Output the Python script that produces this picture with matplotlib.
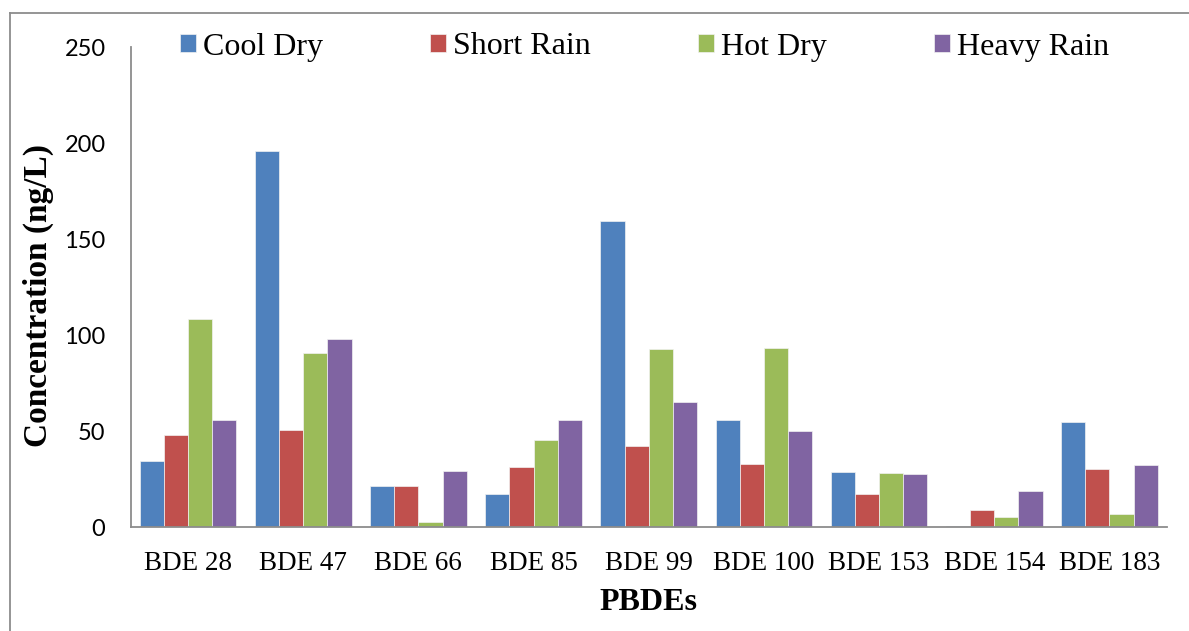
import matplotlib
matplotlib.use("Agg")
import matplotlib.pyplot as plt
from matplotlib.lines import Line2D
import numpy as np

categories = ["BDE 28", "BDE 47", "BDE 66", "BDE 85", "BDE 99",
              "BDE 100", "BDE 153", "BDE 154", "BDE 183"]
cool_dry = [34.4, 195.8, 21.4, 17.4, 159.4, 55.7, 28.8, 0.7, 54.9]
short_rain = [47.9, 50.7, 21.4, 31.6, 42.2, 33.0, 17.4, 8.9, 30.4]
hot_dry = [108.5, 90.8, 2.8, 45.7, 92.7, 93.2, 28.1, 5.4, 6.9]
heavy_rain = [55.7, 97.9, 29.2, 55.9, 65.1, 50.0, 27.8, 19.1, 32.6]
series_names = ["Cool Dry", "Short Rain", "Hot Dry", "Heavy Rain"]
y_ticks = [0, 50, 100, 150, 200, 250]

series = [cool_dry, short_rain, hot_dry, heavy_rain]
colors = ["#4F81BD", "#C0504D", "#9BBB59", "#8064A2"]

W, H = 1189, 631
fig = plt.figure(figsize=(W / 100, H / 100), dpi=100)
ax = fig.add_axes([130.5 / W, 1 - 527.3 / H, (1167 - 130.5) / W, 480 / H])

x = np.arange(len(categories))
bw = 0.21
for i, (vals, name, c) in enumerate(zip(series, series_names, colors)):
    ax.bar(x + (i - 1.5) * bw, vals, width=bw, color=c, label=name,
           edgecolor="#f2f2f2", linewidth=0.5)

ax.set_xlim(-0.5, len(categories) - 0.5)
ax.set_ylim(0, 250)
ax.set_yticks(y_ticks)
ax.set_yticklabels([str(t) for t in y_ticks], fontfamily="Lato", fontsize=17)
ax.set_xticks(x)
ax.set_xticklabels(categories, fontfamily="Liberation Serif", fontsize=19.5)
ax.tick_params(axis="y", length=0, pad=18)
ax.tick_params(axis="x", length=0, pad=17)

for s in ["top", "right"]:
    ax.spines[s].set_visible(False)
for s in ["left", "bottom"]:
    ax.spines[s].set_color("#8c8c8c")
    ax.spines[s].set_linewidth(1.3)

ax.set_xlabel("PBDEs", fontfamily="Liberation Serif", fontsize=23,
              fontweight="bold", va="center")
ax.xaxis.set_label_coords(0.5, (527.3 - 603) / 480)
ax.set_ylabel("Concentration (ng/L)", fontfamily="Liberation Serif",
              fontsize=24, fontweight="bold", va="center")
ax.yaxis.set_label_coords((38 - 130.5) / 1036.5, (527.3 - 295.5) / 480)

fig.legend(loc="center left", bbox_to_anchor=(180 / W, 1 - 47 / H),
           ncol=4, frameon=False, borderpad=0, borderaxespad=0,
           prop={"family": "Liberation Serif", "size": 23},
           handlelength=0.5, handleheight=0.47, handletextpad=0.22,
           columnspacing=3.35)

# outer chart frame (top and left edges)
fig.add_artist(Line2D([9.6 / W, 1.0], [1 - 12.7 / H, 1 - 12.7 / H],
                      transform=fig.transFigure, color="#8c8c8c", lw=1.3))
fig.add_artist(Line2D([9.6 / W, 9.6 / W], [0.0, 1 - 12.7 / H],
                      transform=fig.transFigure, color="#8c8c8c", lw=1.3))

fig.savefig("out.png", dpi=100)
